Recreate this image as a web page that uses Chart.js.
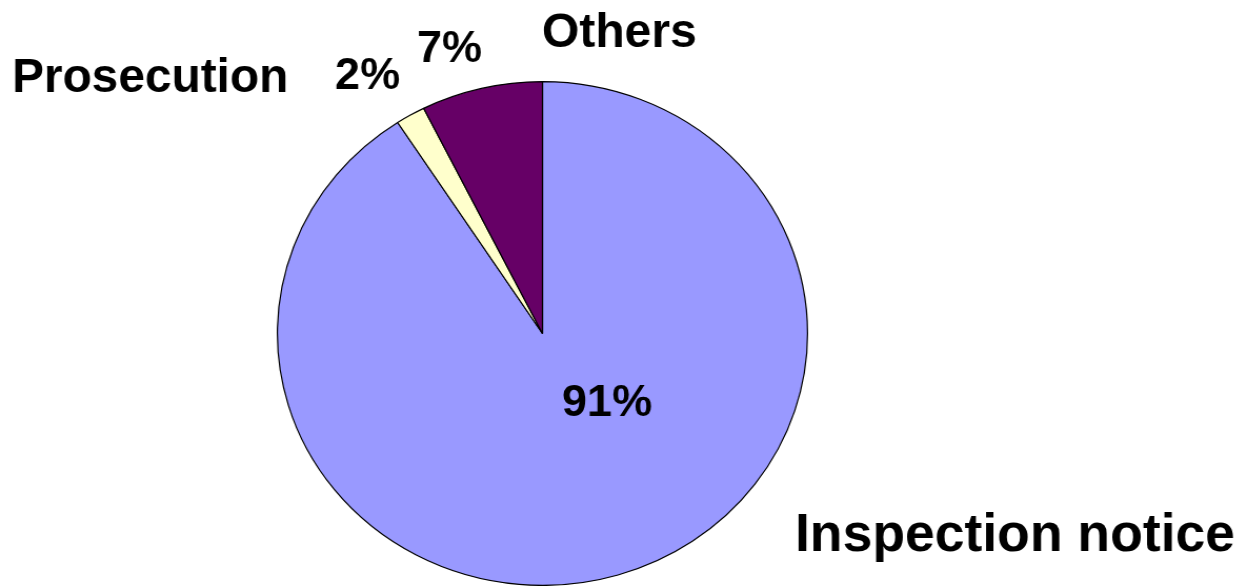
<!DOCTYPE html>
<html>
<head>
<meta charset="utf-8">
<script src="https://cdn.jsdelivr.net/npm/chart.js@4.4.1/dist/chart.umd.min.js"></script>
<style>
  html, body { margin: 0; padding: 0; background: #ffffff; overflow: hidden; }
  #wrap { position: absolute; left: 0; top: 0; width: 1177px; height: 586px; transform-origin: 0 0; }
</style>
</head>
<body>
<div id="wrap"><canvas id="c" width="1177" height="586"></canvas></div>
<script>
// Data
const categories = ["Inspection notice", "Prosecution", "Others"];
const shares = [90.8, 1.8, 7.4];
const sliceColors = ["#9999FF", "#FFFFCC", "#660066"];

// Styling / layout
const SX = 1.0523; // horizontal stretch of the pie (ellipse)
const wrap = document.getElementById('wrap');
wrap.style.transform = 'scaleX(' + SX + ')';

// label placement in screen pixels: name [x, y, size], pct [x, y, size]
const labelPlaces = [
  { name: [795, 551, 53.5], pct: [562, 416, 45] },
  { name: [12, 92, 47.8], pct: [335, 89, 45] },
  { name: [542, 47, 48], pct: [417, 62, 45] }
];

const labelPlugin = {
  id: 'pieLabels',
  afterDraw(chart) {
    const ctx = chart.ctx;
    ctx.save();
    ctx.fillStyle = '#000000';
    ctx.textAlign = 'left';
    ctx.textBaseline = 'alphabetic';
    const put = (text, x, y, size) => {
      ctx.save();
      ctx.font = 'bold ' + size + 'px "Liberation Sans", Arial, sans-serif';
      ctx.translate(x / SX, y);
      ctx.scale(1 / SX, 1);
      ctx.fillText(text, 0, 0);
      ctx.restore();
    };
    categories.forEach((cat, i) => {
      const p = labelPlaces[i];
      put(cat, p.name[0], p.name[1], p.name[2]);
      put(Math.round(shares[i]) + '%', p.pct[0], p.pct[1], p.pct[2]);
    });
    ctx.restore();
  }
};

new Chart(document.getElementById('c'), {
  type: 'pie',
  data: {
    labels: categories,
    datasets: [{
      data: shares,
      backgroundColor: sliceColors,
      borderColor: '#000000',
      borderWidth: 1.2
    }]
  },
  options: {
    responsive: false,
    animation: false,
    devicePixelRatio: 1,
    layout: { padding: { top: 81, bottom: 0, left: 263, right: 409 } },
    plugins: { legend: { display: false }, tooltip: { enabled: false } }
  },
  plugins: [labelPlugin]
});
</script>
</body>
</html>
